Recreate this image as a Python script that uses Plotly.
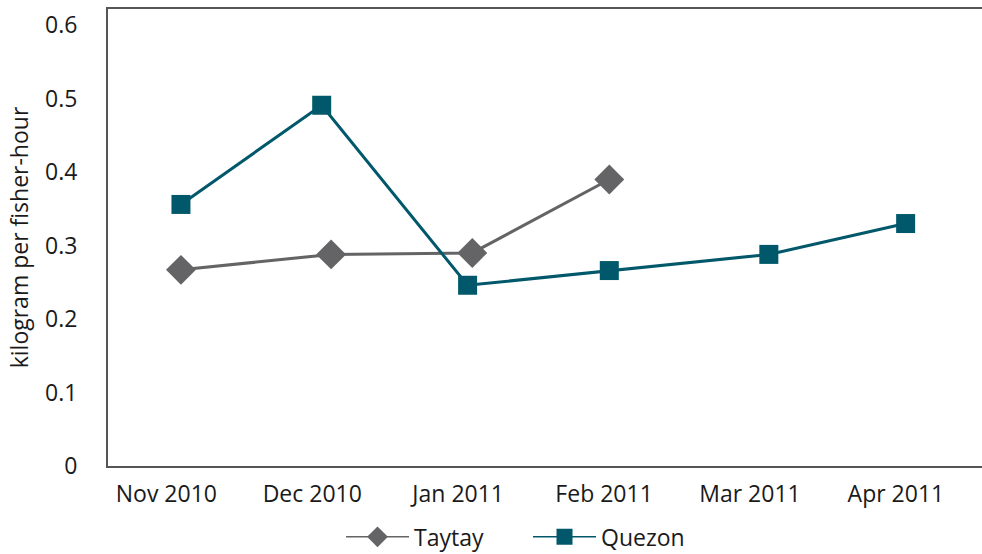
import calendar
import plotly.graph_objects as go

# ---- data ----
month_labels = ["Nov 2010", "Dec 2010", "Jan 2011", "Feb 2011", "Mar 2011", "Apr 2011"]
month_keys = [(2010, 11), (2010, 12), (2011, 1), (2011, 2), (2011, 3), (2011, 4)]

taytay_dates = ["2010-11-04", "2010-12-05", "2011-01-04", "2011-02-02"]
taytay_vals = [0.267, 0.288, 0.290, 0.390]

quezon_dates = ["2010-11-04", "2010-12-03", "2011-01-03", "2011-02-02", "2011-03-05", "2011-04-03"]
quezon_vals = [0.356, 0.491, 0.246, 0.266, 0.288, 0.330]

y_ticks = [0, 0.1, 0.2, 0.3, 0.4, 0.5, 0.6]
y_tick_text = ["0", "0.1", "0.2", "0.3", "0.4", "0.5", "0.6"]


def month_pos(d):
    y, m, day = (int(p) for p in d.split("-"))
    idx = month_keys.index((y, m))
    return idx + (day - 1) / calendar.monthrange(y, m)[1]


GRAY = "#646466"
TEAL = "#00586A"
TXT = "#1a1a1a"
AXIS = "#555555"
FONT = "Open Sans"

fig = go.Figure()
fig.add_trace(go.Scatter(
    x=[month_pos(d) for d in taytay_dates], y=taytay_vals, mode="lines+markers",
    name="Taytay", showlegend=False,
    line=dict(color=GRAY, width=3),
    marker=dict(symbol="diamond", size=23, color=GRAY),
))
fig.add_trace(go.Scatter(
    x=[month_pos(d) for d in quezon_dates], y=quezon_vals, mode="lines+markers",
    name="Quezon", showlegend=False,
    line=dict(color=TEAL, width=3),
    marker=dict(symbol="square", size=19, color=TEAL),
))
# legend entries (thin line like the reference legend)
fig.add_trace(go.Scatter(
    x=[None], y=[None], mode="lines+markers", name="Taytay",
    line=dict(color=GRAY, width=1.5),
    marker=dict(symbol="diamond", size=23, color=GRAY),
))
fig.add_trace(go.Scatter(
    x=[None], y=[None], mode="lines+markers", name="Quezon",
    line=dict(color=TEAL, width=1.5),
    marker=dict(symbol="square", size=19, color=TEAL),
))

fig.update_layout(
    width=982, height=554,
    margin=dict(l=108, r=0, t=9, b=88, autoexpand=False),
    paper_bgcolor="white", plot_bgcolor="white",
    font=dict(family=FONT, size=23, color=TXT),
    legend=dict(
        orientation="h", x=0.2666, xanchor="left", y=-0.155, yanchor="middle",
        font=dict(family=FONT, size=23, color=TXT),
        itemwidth=63, entrywidth=109, entrywidthmode="pixels",
        traceorder="normal", bgcolor="rgba(0,0,0,0)",
    ),
    xaxis=dict(
        range=[-0.40, 5.59], automargin=False,
        tickmode="array", tickvals=list(range(len(month_labels))), ticktext=month_labels,
        showgrid=False, zeroline=False,
        showline=True, linecolor=AXIS, linewidth=2, mirror=True,
        ticks="", ticklabelstandoff=6,
        tickfont=dict(family=FONT, size=23, color=TXT),
    ),
    yaxis=dict(
        range=[0, 0.622], automargin=False,
        tickmode="array", tickvals=y_ticks, ticktext=y_tick_text,
        showgrid=False, zeroline=False,
        showline=True, linecolor=AXIS, linewidth=2,
        ticks="", ticklabelstandoff=24,
        tickfont=dict(family=FONT, size=23, color=TXT),
        title=dict(text="kilogram per fisher-hour", standoff=10,
                   font=dict(family=FONT, size=23, color=TXT)),
    ),
)

fig.write_html(
    "out.html",
    config={"displayModeBar": False},
    post_script=(
        "document.documentElement.style.overflow='hidden';"
        "document.body.style.margin='0';document.body.style.overflow='hidden';"
    ),
)
